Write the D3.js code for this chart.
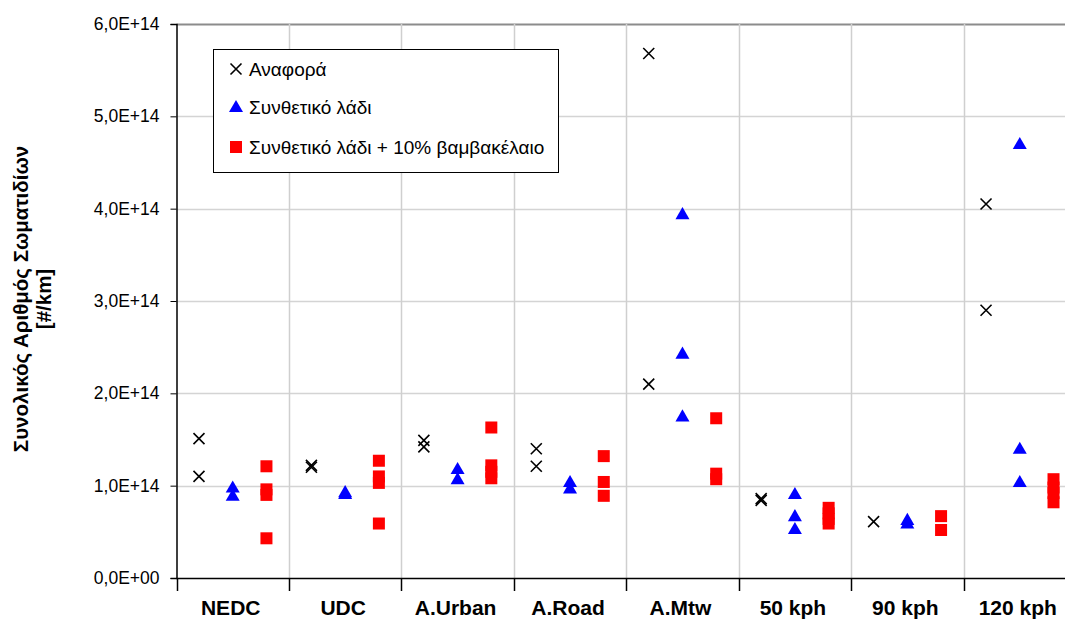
<!DOCTYPE html>
<html>
<head>
<meta charset="utf-8">
<script src="https://cdn.jsdelivr.net/npm/d3@7"></script>
<style>
body { margin: 0; background: #fff; }
svg { display: block; font-family: "Liberation Sans", Arial, sans-serif; }
</style>
</head>
<body>
<div id="chart"></div>
<script>
var categories = ['NEDC', 'UDC', 'A.Urban', 'A.Road', 'A.Mtw', '50 kph', '90 kph', '120 kph'];
var yTicks = [0, 1e14, 2e14, 3e14, 4e14, 5e14, 6e14];

// values in units of 1E+14 #/km, one list per category
var reference = [
    [1.51, 1.10],
    [1.22, 1.20],
    [1.49, 1.42],
    [1.40, 1.21],
    [5.68, 2.10],
    [0.86, 0.84],
    [0.61],
    [4.05, 2.90]
];
var syntheticOil = [
    [0.98, 0.89],
    [0.93, 0.91],
    [1.18, 1.07],
    [1.04, 0.97],
    [3.94, 2.43, 1.75],
    [0.91, 0.67, 0.53],
    [0.63, 0.59],
    [4.70, 1.40, 1.04]
];
var syntheticCotton = [
    [1.21, 0.96, 0.90, 0.43],
    [1.27, 1.10, 1.03, 0.59],
    [1.63, 1.22, 1.15, 1.08],
    [1.32, 1.04, 0.89],
    [1.73, 1.13, 1.07],
    [0.76, 0.70, 0.64, 0.59],
    [0.67, 0.52],
    [1.07, 0.98, 0.92, 0.82]
];
var seriesNames = ['Αναφορά', 'Συνθετικό λάδι', 'Συνθετικό λάδι + 10% βαμβακέλαιο'];

var width = 1065, height = 619;
var plotLeft = 176.5, plotTop = 24, plotRight = 1076, plotBottom = 578;

var svg = d3.select('#chart').append('svg')
    .attr('width', width)
    .attr('height', height);

var x = d3.scaleLinear().domain([0, categories.length]).range([plotLeft, plotRight]);
var y = d3.scaleLinear().domain([0, 6e14]).range([plotBottom, plotTop]);

function flatten(list, offset) {
    var out = [];
    list.forEach(function(vals, i) {
        vals.forEach(function(v) {
            out.push({ x: i + offset, y: v * 1e14 });
        });
    });
    return out;
}

// grid
svg.append('g').selectAll('line')
    .data(yTicks.slice(1))
    .enter().append('line')
    .attr('x1', plotLeft).attr('x2', plotRight)
    .attr('y1', function(d) { return Math.round(y(d)) + 0.5; })
    .attr('y2', function(d) { return Math.round(y(d)) + 0.5; })
    .attr('stroke', function(d) { return d === 6e14 ? '#8c8c8c' : '#d4d4d4'; })
    .attr('stroke-width', function(d) { return d === 6e14 ? 2 : 1.5; });

svg.append('g').selectAll('line')
    .data(d3.range(1, categories.length + 1))
    .enter().append('line')
    .attr('y1', plotTop).attr('y2', plotBottom)
    .attr('x1', function(d) { return Math.round(x(d)) + 0.5; })
    .attr('x2', function(d) { return Math.round(x(d)) + 0.5; })
    .attr('stroke', '#cfcfcf')
    .attr('stroke-width', 1.5);

// y axis
var yAxis = d3.axisLeft(y)
    .tickValues(yTicks)
    .tickSize(6)
    .tickPadding(11)
    .tickFormat(function(d) {
        var s = d3.format('.1e')(d).replace('.', ',').toUpperCase();
        return s.replace(/E\+?(-?)(\d+)$/, function(m, sign, exp) {
            return 'E' + (sign || '+') + (exp.length < 2 ? '0' + exp : exp);
        });
    });
var gy = svg.append('g')
    .attr('transform', 'translate(' + plotLeft + ',0)')
    .call(yAxis);
gy.select('.domain').attr('stroke', '#000').attr('stroke-width', 1.5);
gy.selectAll('.tick line').attr('stroke', '#000');
gy.selectAll('.tick text').attr('font-size', 17.5).attr('fill', '#000')
    .attr('font-family', '"Liberation Sans", Arial, sans-serif');

// x axis
svg.append('line')
    .attr('x1', plotLeft).attr('x2', plotRight)
    .attr('y1', plotBottom + 0.5).attr('y2', plotBottom + 0.5)
    .attr('stroke', '#000').attr('stroke-width', 1.5);
svg.append('g').selectAll('line')
    .data(d3.range(0, categories.length + 1))
    .enter().append('line')
    .attr('x1', function(d) { return Math.round(x(d)) + 0.5; })
    .attr('x2', function(d) { return Math.round(x(d)) + 0.5; })
    .attr('y1', plotBottom).attr('y2', plotBottom + 13)
    .attr('stroke', '#000').attr('stroke-width', 1.5);
svg.append('g').selectAll('text')
    .data(categories)
    .enter().append('text')
    .attr('x', function(d, i) { return x(i + 0.5) - 2; })
    .attr('y', 615)
    .attr('text-anchor', 'middle')
    .attr('font-size', 21)
    .attr('font-weight', 'bold')
    .text(function(d) { return d; });

// y title
var title = svg.append('text')
    .attr('transform', 'translate(28,299) rotate(-90)')
    .attr('text-anchor', 'middle')
    .attr('font-size', 20.5)
    .attr('font-weight', 'bold');
title.append('tspan').attr('x', 0).attr('dy', 0).text('Συνολικός Αριθμός Σωματιδίων');
title.append('tspan').attr('x', 0).attr('dy', 23).text('[#/km]');

// markers
var triangle = d3.symbol().type(d3.symbolTriangle).size(85);

function drawCross(g, cx, cy) {
    var s = 5.5;
    g.append('path')
        .attr('d', 'M' + (cx - s) + ',' + (cy - s) + 'L' + (cx + s) + ',' + (cy + s) +
            'M' + (cx - s) + ',' + (cy + s) + 'L' + (cx + s) + ',' + (cy - s))
        .attr('stroke', '#000').attr('stroke-width', 1.6).attr('fill', 'none');
}

var marks = svg.append('g');
flatten(reference, 0.2).forEach(function(d) {
    drawCross(marks, x(d.x), y(d.y));
});
marks.selectAll('path.tri')
    .data(flatten(syntheticOil, 0.5))
    .enter().append('path')
    .attr('class', 'tri')
    .attr('d', triangle)
    .attr('transform', function(d) { return 'translate(' + x(d.x) + ',' + (y(d.y) + 1) + ')'; })
    .attr('fill', '#0000ff');
marks.selectAll('rect.sq')
    .data(flatten(syntheticCotton, 0.8))
    .enter().append('rect')
    .attr('class', 'sq')
    .attr('x', function(d) { return x(d.x) - 6; })
    .attr('y', function(d) { return y(d.y) - 6; })
    .attr('width', 12).attr('height', 12)
    .attr('fill', '#ff0000');

// legend
var lg = svg.append('g');
lg.append('rect')
    .attr('x', 213.5).attr('y', 49.5)
    .attr('width', 345).attr('height', 123)
    .attr('fill', '#fff').attr('stroke', '#000').attr('stroke-width', 1);
var legendY = [69, 107, 147];
drawCross(lg, 236, legendY[0]);
lg.append('path').attr('d', triangle)
    .attr('transform', 'translate(236,' + (legendY[1] + 1) + ')')
    .attr('fill', '#0000ff');
lg.append('rect').attr('x', 230).attr('y', legendY[2] - 6)
    .attr('width', 12).attr('height', 12).attr('fill', '#ff0000');
lg.selectAll('text')
    .data(seriesNames)
    .enter().append('text')
    .attr('x', 249)
    .attr('y', function(d, i) { return legendY[i] + 7; })
    .attr('font-size', 19)
    .text(function(d) { return d; });
</script>
</body>
</html>
